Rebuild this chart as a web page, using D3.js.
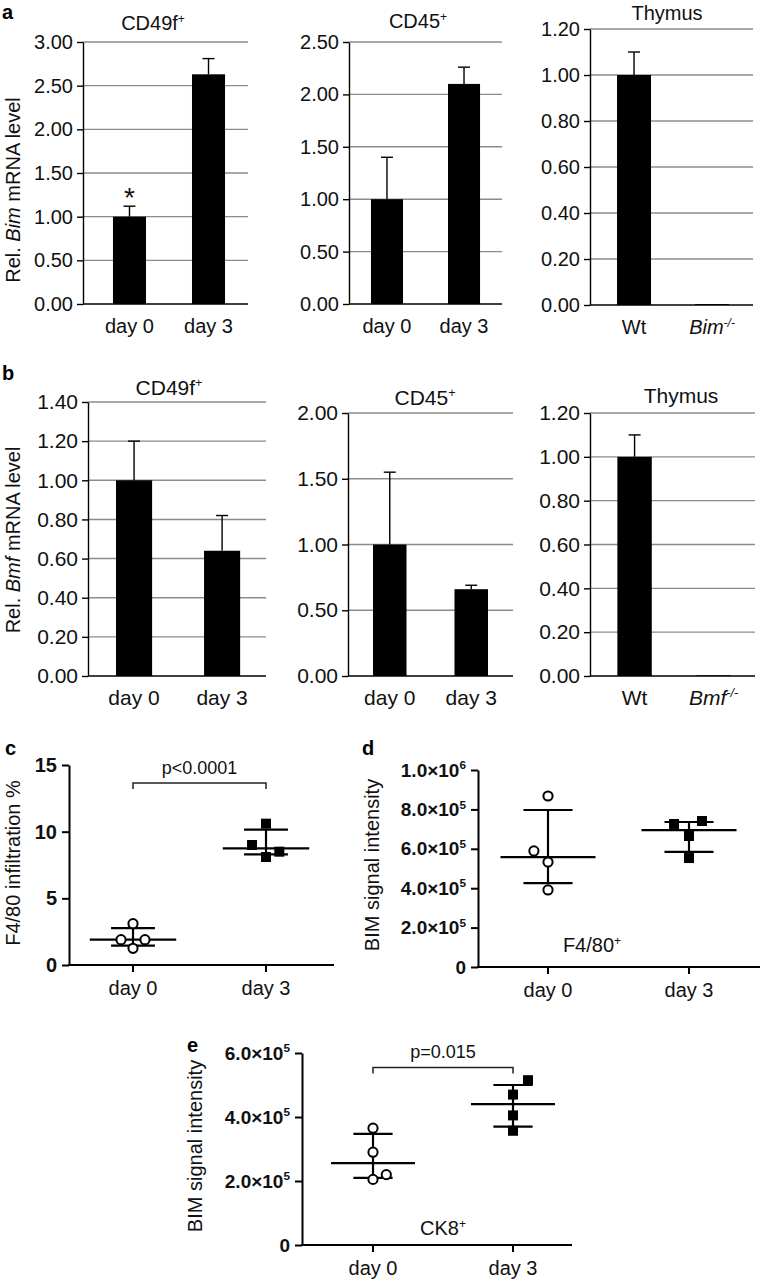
<!DOCTYPE html>
<html><head><meta charset="utf-8">
<script src="https://cdn.jsdelivr.net/npm/d3@7"></script>
<style>
body{margin:0;background:#fff;}
svg{display:block;font-family:"Liberation Sans",Arial,Helvetica,sans-serif;}
</style></head><body>
<svg id="fig" width="762" height="1283"></svg>
<script>
// ---------------- DATA ----------------
const dayCats = ["day 0", "day 3"];
const bimThyCats = ["Wt", "Bim-/-"];
const bmfThyCats = ["Wt", "Bmf-/-"];

// panel a: Bim mRNA
const bimCD49Mean = [1.00, 2.63];
const bimCD49Err  = [0.12, 0.18];
const bimCD45Mean = [1.00, 2.10];
const bimCD45Err  = [0.40, 0.16];
const bimThyMean  = [1.00, 0.004];
const bimThyErr   = [0.10, 0];
const ticksBimCD49 = [0, 0.5, 1.0, 1.5, 2.0, 2.5, 3.0];
const ticksBimCD45 = [0, 0.5, 1.0, 1.5, 2.0, 2.5];
const ticksThy     = [0, 0.2, 0.4, 0.6, 0.8, 1.0, 1.2];

// panel b: Bmf mRNA
const bmfCD49Mean = [1.00, 0.64];
const bmfCD49Err  = [0.20, 0.18];
const bmfCD45Mean = [1.00, 0.66];
const bmfCD45Err  = [0.55, 0.03];
const bmfThyMean  = [1.00, 0.003];
const bmfThyErr   = [0.10, 0];
const ticksBmfCD49 = [0, 0.2, 0.4, 0.6, 0.8, 1.0, 1.2, 1.4];
const ticksBmfCD45 = [0, 0.5, 1.0, 1.5, 2.0];

// panel c: F4/80 infiltration %
const f480Day0 = [3.1, 1.9, 1.9, 1.25];
const f480Day0Jit = [0, -0.09, 0.09, 0];
const f480Day3 = [10.6, 9.0, 8.1, 8.5];
const f480Day3Jit = [0, -0.105, 0, 0.1];
const f480Mean = [1.9, 8.75];
const f480SdLo = [1.46, 8.3];
const f480SdHi = [2.77, 10.15];
const ticksC = [0, 5, 10, 15];
const cBracket = 13.65;
const cP = "p<0.0001";

// panel d: BIM signal in F4/80+
const dDay0 = [8.68e5, 5.89e5, 5.33e5, 3.91e5];
const dDay0Jit = [0, -0.1, 0, 0];
const dDay3 = [7.26e5, 7.41e5, 6.65e5, 5.53e5];
const dDay3Jit = [-0.106, 0.092, 0, 0];
const dMean = [5.58e5, 6.95e5];
const dSdLo = [4.26e5, 5.84e5];
const dSdHi = [7.97e5, 7.36e5];
const ticksD = [0, 2e5, 4e5, 6e5, 8e5, 1e6];

// panel e: BIM signal in CK8+
const eDay0 = [3.65e5, 2.9e5, 2.05e5, 2.2e5];
const eDay0Jit = [0, 0, 0, 0.095];
const eDay3 = [5.15e5, 4.7e5, 4.05e5, 3.57e5];
const eDay3Jit = [0.107, 0, 0, 0];
const eMean = [2.56e5, 4.4e5];
const eSdLo = [2.1e5, 3.7e5];
const eSdHi = [3.47e5, 5.0e5];
const ticksE = [0, 2e5, 4e5, 6e5];
const eBracket = 5.55e5;
const eP = "p=0.015";

// ---------------- LAYOUT ----------------
const svg = d3.select("#fig");
const FONT = 20;
const GRID = "#8c8c8c";

function addSup(sel, base, sup, italicBase) {
  sel.append("tspan").text(base).attr("font-style", italicBase ? "italic" : null);
  sel.append("tspan").text(sup).attr("font-size", "0.6em").attr("dy", "-0.6em")
     .attr("font-style", italicBase ? "italic" : null);
}

function catLabel(sel, c) {
  if (c.endsWith("-/-")) addSup(sel, c.slice(0, -3), "-/-", true);
  else sel.text(c);
}

function barChart(cfg, cats, means, errs, ticks) {
  const g = svg.append("g");
  const x = d3.scaleBand().domain(cats).range([cfg.x0, cfg.x1])
    .paddingInner(cfg.pi).paddingOuter(cfg.po).align(cfg.al);
  const y = d3.scaleLinear().domain([0, ticks[ticks.length - 1]]).range([cfg.y0, cfg.y1]);
  g.selectAll("line.grid").data(ticks.slice(1)).join("line")
    .attr("x1", cfg.x0).attr("x2", cfg.x1)
    .attr("y1", d => y(d)).attr("y2", d => y(d))
    .attr("stroke", GRID).attr("stroke-width", 1.4);
  const rows = cats.map((c, i) => ({c, m: means[i], e: errs[i]}));
  rows.filter(r => r.e > 0).forEach(r => {
    const cx = x(r.c) + x.bandwidth() / 2;
    g.append("line").attr("x1", cx).attr("x2", cx).attr("y1", y(r.m)).attr("y2", y(r.m + r.e))
      .attr("stroke", "#000").attr("stroke-width", 1.4);
    g.append("line").attr("x1", cx - 6).attr("x2", cx + 6).attr("y1", y(r.m + r.e)).attr("y2", y(r.m + r.e))
      .attr("stroke", "#000").attr("stroke-width", 1.4);
  });
  g.selectAll("rect").data(rows).join("rect")
    .attr("x", d => x(d.c)).attr("width", x.bandwidth())
    .attr("y", d => y(d.m)).attr("height", d => cfg.y0 - y(d.m))
    .attr("fill", "#000");
  const ax = g.append("g").attr("transform", `translate(${cfg.x0},0)`)
    .call(d3.axisLeft(y).tickValues(ticks).tickFormat(d3.format(".2f")).tickSize(6).tickSizeOuter(0).tickPadding(4));
  ax.select(".domain").attr("stroke", "#000").attr("stroke-width", 1.4);
  ax.selectAll(".tick line").attr("stroke", "#000").attr("stroke-width", 1.4);
  ax.selectAll(".tick text").attr("font-size", cfg.fs || FONT).attr("fill", "#111")
    .attr("font-family", "Liberation Sans, Arial, sans-serif");
  g.append("line").attr("x1", cfg.x0).attr("x2", cfg.x1).attr("y1", cfg.y0).attr("y2", cfg.y0)
    .attr("stroke", "#000").attr("stroke-width", 1.4);
  cats.forEach(c => {
    const t = g.append("text").attr("x", x(c) + x.bandwidth() / 2).attr("y", cfg.y0 + 29)
      .attr("text-anchor", "middle").attr("font-size", cfg.fs || FONT).attr("fill", "#111");
    catLabel(t, c);
  });
  const tt = g.append("text").attr("x", cfg.tx).attr("y", cfg.ty).attr("text-anchor", "middle")
    .attr("font-size", cfg.fs || FONT).attr("fill", "#111");
  if (cfg.title.endsWith("+")) addSup(tt, cfg.title.slice(0, -1), "+", false);
  else tt.text(cfg.title);
  return {x, y};
}

function sciFormat(sel, v) {
  if (v === 0) { sel.text("0"); return; }
  const ex = Math.floor(Math.log10(v) + 1e-9);
  const m = v / Math.pow(10, ex);
  sel.text(null);
  sel.append("tspan").text(m.toFixed(1) + "\u00d710");
  sel.append("tspan").text(ex).attr("font-size", "0.62em").attr("dy", "-0.62em");
}

function scatter(cfg, day0, jit0, day3, jit3, mean, sdLo, sdHi, ticks, sci) {
  const g = svg.append("g");
  const x = d3.scaleLinear().domain([0, 1]).range([cfg.c0, cfg.c1]);
  const y = d3.scaleLinear().domain([0, ticks[ticks.length - 1]]).range([cfg.y0, cfg.yTop]);
  const ax = g.append("g").attr("transform", `translate(${cfg.ax},0)`)
    .call(d3.axisLeft(y).tickValues(ticks).tickSize(7).tickSizeOuter(0).tickPadding(5)
      .tickFormat(sci ? () => "" : d3.format("d")));
  ax.select(".domain").attr("stroke", "#000").attr("stroke-width", 2);
  ax.selectAll(".tick line").attr("stroke", "#000").attr("stroke-width", 2);
  ax.selectAll(".tick text").attr("font-size", cfg.tfs).attr("font-weight", "bold").attr("fill", "#111")
    .attr("font-family", "Liberation Sans, Arial, sans-serif");
  if (sci) ax.selectAll(".tick text").each(function(d) { sciFormat(d3.select(this), d); });
  g.append("line").attr("x1", cfg.ax - 1).attr("x2", cfg.axEnd).attr("y1", cfg.y0).attr("y2", cfg.y0)
    .attr("stroke", "#000").attr("stroke-width", 2);
  [0, 1].forEach(i => {
    g.append("line").attr("x1", x(i)).attr("x2", x(i)).attr("y1", cfg.y0).attr("y2", cfg.y0 + 7)
      .attr("stroke", "#000").attr("stroke-width", 2);
    g.append("text").attr("x", x(i)).attr("y", cfg.y0 + 30).attr("text-anchor", "middle")
      .attr("font-size", FONT).attr("fill", "#111").text(dayCats[i]);
  });
  [0, 1].forEach(i => {
    g.append("line").attr("x1", x(i)).attr("x2", x(i)).attr("y1", y(sdLo[i])).attr("y2", y(sdHi[i]))
      .attr("stroke", "#000").attr("stroke-width", 2.2);
    [sdLo[i], sdHi[i]].forEach(v => {
      g.append("line").attr("x1", x(i - cfg.sw)).attr("x2", x(i + cfg.sw)).attr("y1", y(v)).attr("y2", y(v))
        .attr("stroke", "#000").attr("stroke-width", 2.2);
    });
    g.append("line").attr("x1", x(i - cfg.mw)).attr("x2", x(i + cfg.mw)).attr("y1", y(mean[i])).attr("y2", y(mean[i]))
      .attr("stroke", "#000").attr("stroke-width", 2.2);
  });
  g.selectAll("circle").data(day0.map((v, k) => ({v, j: jit0[k]}))).join("circle")
    .attr("cx", d => x(0 + d.j)).attr("cy", d => y(d.v)).attr("r", 4.6)
    .attr("fill", "#fff").attr("stroke", "#000").attr("stroke-width", 2);
  g.selectAll("rect.sq").data(day3.map((v, k) => ({v, j: jit3[k]}))).join("rect").attr("class", "sq")
    .attr("x", d => x(1 + d.j) - 5).attr("y", d => y(d.v) - 5).attr("width", 10).attr("height", 10)
    .attr("fill", "#000");
  return {x, y, g};
}

function bracket(sc, val, label) {
  const yb = sc.y(val);
  const p = d3.path();
  p.moveTo(sc.x(0), yb + 6); p.lineTo(sc.x(0), yb); p.lineTo(sc.x(1), yb); p.lineTo(sc.x(1), yb + 6);
  sc.g.append("path").attr("d", p.toString()).attr("fill", "none").attr("stroke", "#222").attr("stroke-width", 1.5);
  sc.g.append("text").attr("x", (sc.x(0) + sc.x(1)) / 2).attr("y", yb - 9).attr("text-anchor", "middle")
    .attr("font-size", 18).attr("fill", "#111").text(label);
}

function panelLabel(t, x, y) {
  svg.append("text").attr("x", x).attr("y", y).attr("font-size", 20).attr("font-weight", "bold").text(t);
}

function yLabel(x, y, parts) {
  const t = svg.append("text").attr("transform", `translate(${x},${y}) rotate(-90)`)
    .attr("text-anchor", "middle").attr("font-size", FONT).attr("fill", "#111");
  parts.forEach(p => t.append("tspan").text(p[0]).attr("font-style", p[1] ? "italic" : null));
}

// ----- panel a -----
panelLabel("a", 2, 19);
barChart({x0: 83, x1: 248, y0: 304, y1: 42, pi: 0.582, po: 0.335, al: 0.566, tx: 153, ty: 30, title: "CD49f+"},
  dayCats, bimCD49Mean, bimCD49Err, ticksBimCD49);
const a1y = d3.scaleLinear().domain([0, 3]).range([304, 42]);
svg.append("text").attr("x", 129.5).attr("y", a1y(bimCD49Mean[0] + bimCD49Err[0]) + 1).attr("text-anchor", "middle")
  .attr("font-size", 28).attr("fill", "#111").text("*");
barChart({x0: 349, x1: 502, y0: 304, y1: 42, pi: 0.584, po: 0.285, al: 0.5, tx: 418, ty: 28, title: "CD45+"},
  dayCats, bimCD45Mean, bimCD45Err, ticksBimCD45);
barChart({x0: 590, x1: 753, y0: 305, y1: 29, pi: 0.564, po: 0.327, al: 0.53, tx: 667, ty: 20, title: "Thymus"},
  bimThyCats, bimThyMean, bimThyErr, ticksThy);
yLabel(20, 190, [["Rel. ", false], ["Bim", true], [" mRNA level", false]]);

// ----- panel b -----
panelLabel("b", 2, 380);
barChart({x0: 88, x1: 266, y0: 676, y1: 402, pi: 0.59, po: 0.306, al: 0.52, tx: 169, ty: 395, title: "CD49f+", fs: 21},
  dayCats, bmfCD49Mean, bmfCD49Err, ticksBmfCD49);
barChart({x0: 348, x1: 513, y0: 676, y1: 413, pi: 0.589, po: 0.307, al: 0.5, tx: 425, ty: 405, title: "CD45+", fs: 21},
  dayCats, bmfCD45Mean, bmfCD45Err, ticksBmfCD45);
barChart({x0: 590, x1: 755, y0: 676, y1: 413, pi: 0.564, po: 0.327, al: 0.53, tx: 681, ty: 403, title: "Thymus", fs: 21},
  bmfThyCats, bmfThyMean, bmfThyErr, ticksThy);
yLabel(20, 540, [["Rel. ", false], ["Bmf", true], [" mRNA level", false]]);

// ----- panel c -----
panelLabel("c", 5, 755);
const sc = scatter({ax: 69, axEnd: 334, y0: 965, yTop: 765, c0: 133, c1: 266, mw: 0.325, sw: 0.165, tfs: 20},
  f480Day0, f480Day0Jit, f480Day3, f480Day3Jit, f480Mean, f480SdLo, f480SdHi, ticksC, false);
bracket(sc, cBracket, cP);
yLabel(20, 863, [["F4/80 infiltration %", false]]);

// ----- panel d -----
panelLabel("d", 362, 755);
const sd = scatter({ax: 478, axEnd: 760, y0: 967, yTop: 770, c0: 548, c1: 689, mw: 0.337, sw: 0.174, tfs: 19},
  dDay0, dDay0Jit, dDay3, dDay3Jit, dMean, dSdLo, dSdHi, ticksD, true);
yLabel(379, 865, [["BIM signal intensity", false]]);
{
  const t = svg.append("text").attr("x", 592).attr("y", 952).attr("text-anchor", "middle")
    .attr("font-size", FONT).attr("fill", "#111");
  addSup(t, "F4/80", "+", false);
}

// ----- panel e -----
panelLabel("e", 187, 1052);
const se = scatter({ax: 302, axEnd: 572, y0: 1245, yTop: 1053, c0: 373, c1: 513, mw: 0.30, sw: 0.14, tfs: 19},
  eDay0, eDay0Jit, eDay3, eDay3Jit, eMean, eSdLo, eSdHi, ticksE, true);
bracket(se, eBracket, eP);
yLabel(202, 1146, [["BIM signal intensity", false]]);
{
  const t = svg.append("text").attr("x", 443).attr("y", 1235).attr("text-anchor", "middle")
    .attr("font-size", FONT).attr("fill", "#111");
  addSup(t, "CK8", "+", false);
}
</script>
</body></html>
